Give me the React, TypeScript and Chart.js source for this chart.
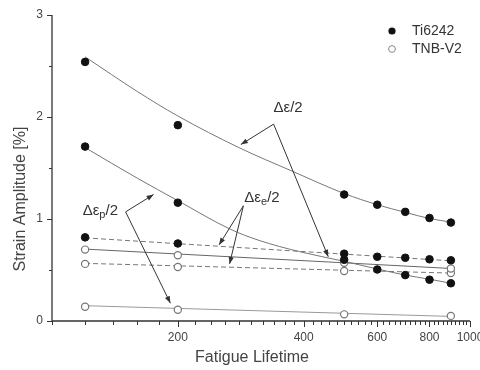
import React, { useEffect, useRef } from "react";
import { Chart, registerables } from "chart.js";

Chart.register(...registerables);

// ---- data ----
const tiX = [120, 200, 500, 600, 700, 800, 900];
const tiTotal = [2.54, 1.92, 1.24, 1.14, 1.07, 1.01, 0.965];
const tiElastic = [0.82, 0.76, 0.66, 0.63, 0.62, 0.605, 0.595];
const tiPlastic = [1.71, 1.16, 0.6, 0.505, 0.45, 0.405, 0.37];

const tnbX = [120, 200, 500, 900];
const tnbTotal = [0.7, 0.645, 0.57, 0.515];
const tnbElastic = [0.56, 0.53, 0.49, 0.47];
const tnbPlastic = [0.14, 0.11, 0.065, 0.05];

const tiTotalFitX = [120, 160, 200, 280, 375, 500, 600, 700, 800, 900];
const tiTotalFitY = [2.59, 2.25, 2.01, 1.7, 1.47, 1.25, 1.14, 1.065, 1.005, 0.97];
const tiPlasticFitX = [120, 160, 200, 267, 313, 391, 500, 600, 700, 800, 900];
const tiPlasticFitY = [1.7, 1.4, 1.18, 0.9, 0.79, 0.68, 0.585, 0.51, 0.45, 0.41, 0.37];

const lineEndsX = [120, 900];
const tiElasticFit = [0.815, 0.59];
const tnbTotalFit = [0.705, 0.515];
const tnbElasticFit = [0.565, 0.47];
const tnbPlasticFit = [0.15, 0.045];

const xTickLabels = [200, 400, 600, 800, 1000];
const xMinorStep = 20;
const yTickLabels = [0, 1, 2, 3];
const yMinorStep = 0.5;

const legendLabels = ["Ti6242", "TNB-V2"];
const xTitle = "Fatigue Lifetime";
const yTitle = "Strain Amplitude [%]";

// annotation labels (data coordinates)
const annSub = ["", "e", "p"];
const annTextAt = [
  [367, 2.09],
  [318, 1.21],
  [130.5, 1.08],
];
const annVertex = [
  [339, 1.93],
  [287, 1.13],
  [150, 1.07],
];
const annTips = [
  [[283, 1.73], [458, 0.63]],
  [[251, 0.746], [266, 0.56]],
  [[175, 1.24], [192, 0.174]],
];

const pts = (xs: number[], ys: number[]) => xs.map((x, i) => ({ x, y: ys[i] }));

const FONT = "'Liberation Sans', Arial, sans-serif";

const overlayPlugin = {
  id: "overlay",
  afterDraw(chart: any) {
    const ctx = chart.ctx as CanvasRenderingContext2D;
    const xs = chart.scales.x;
    const ys = chart.scales.y;
    const area = chart.chartArea;
    ctx.save();
    ctx.setLineDash([]);
    ctx.globalAlpha = 1;
    // axis lines
    ctx.strokeStyle = "#333";
    ctx.lineWidth = 1.3;
    ctx.beginPath();
    ctx.moveTo(area.left, area.top);
    ctx.lineTo(area.left, area.bottom);
    ctx.lineTo(area.right, area.bottom);
    ctx.stroke();
    // ticks
    ctx.lineWidth = 1;
    for (let i = 0; i * xMinorStep + 100 <= 1000; i++) {
      const v = 100 + i * xMinorStep;
      const px = Math.round(xs.getPixelForValue(v)) + 0.5;
      const major = xTickLabels.indexOf(v) >= 0;
      ctx.beginPath();
      ctx.moveTo(px, area.bottom);
      ctx.lineTo(px, area.bottom + (major ? 6 : 4));
      ctx.stroke();
    }
    for (let i = 0; i * yMinorStep <= 3; i++) {
      const v = i * yMinorStep;
      const py = Math.round(ys.getPixelForValue(v)) + 0.5;
      const major = yTickLabels.indexOf(v) >= 0;
      ctx.beginPath();
      ctx.moveTo(area.left, py);
      ctx.lineTo(area.left - (major ? 5 : 3), py);
      ctx.stroke();
    }

    // axis titles
    ctx.fillStyle = "#444";
    ctx.font = `16px ${FONT}`;
    ctx.textAlign = "center";
    ctx.textBaseline = "middle";
    ctx.fillText(xTitle, 252, 358);
    ctx.save();
    ctx.translate(21, 199);
    ctx.rotate(-Math.PI / 2);
    ctx.fillText(yTitle, 0, 0);
    ctx.restore();

    // legend
    ctx.textAlign = "left";
    ctx.font = `14px ${FONT}`;
    ctx.fillStyle = "#111";
    ctx.beginPath();
    ctx.arc(392, 31, 3.6, 0, Math.PI * 2);
    ctx.fill();
    ctx.fillStyle = "#333";
    ctx.fillText(legendLabels[0], 412, 31);
    ctx.beginPath();
    ctx.arc(392, 49, 3.4, 0, Math.PI * 2);
    ctx.fillStyle = "#fff";
    ctx.fill();
    ctx.strokeStyle = "#888";
    ctx.lineWidth = 1;
    ctx.stroke();
    ctx.fillStyle = "#333";
    ctx.fillText(legendLabels[1], 412, 49);

    // annotations
    const P = (p: number[]) => [xs.getPixelForValue(p[0]), ys.getPixelForValue(p[1])];
    ctx.strokeStyle = "#333";
    ctx.fillStyle = "#333";
    ctx.lineWidth = 1;
    for (let i = 0; i < annTextAt.length; i++) {
      const [vx, vy] = P(annVertex[i]);
      for (const t of annTips[i]) {
        const [tx, ty] = P(t);
        ctx.beginPath();
        ctx.moveTo(vx, vy);
        ctx.lineTo(tx, ty);
        ctx.stroke();
        const ang = Math.atan2(ty - vy, tx - vx);
        const L = 7, W = 2.6;
        ctx.beginPath();
        ctx.moveTo(tx, ty);
        ctx.lineTo(tx - L * Math.cos(ang) + W * Math.sin(ang), ty - L * Math.sin(ang) - W * Math.cos(ang));
        ctx.lineTo(tx - L * Math.cos(ang) - W * Math.sin(ang), ty - L * Math.sin(ang) + W * Math.cos(ang));
        ctx.closePath();
        ctx.fill();
      }
      // label
      const [cx, cy] = P(annTextAt[i]);
      const mainF = `15px ${FONT}`;
      const subF = `11px ${FONT}`;
      ctx.font = mainF;
      const w1 = ctx.measureText("Δε").width;
      const w3 = ctx.measureText("/2").width;
      ctx.font = subF;
      const w2 = annSub[i] ? ctx.measureText(annSub[i]).width : 0;
      let x0 = cx - (w1 + w2 + w3) / 2;
      ctx.textAlign = "left";
      ctx.textBaseline = "middle";
      ctx.fillStyle = "#333";
      ctx.font = mainF;
      ctx.fillText("Δε", x0, cy);
      x0 += w1;
      if (annSub[i]) {
        ctx.font = subF;
        ctx.fillText(annSub[i], x0, cy + 4);
        x0 += w2;
      }
      ctx.font = mainF;
      ctx.fillText("/2", x0, cy);
    }
    ctx.restore();
  },
};

export default function App() {
  const ref = useRef<HTMLCanvasElement | null>(null);
  useEffect(() => {
    if (!ref.current) return;
    const filled = {
      showLine: false,
      pointRadius: 3.8,
      pointBackgroundColor: "#111",
      pointBorderColor: "#111",
      pointBorderWidth: 1,
      order: 1,
    };
    const open = {
      showLine: false,
      pointRadius: 3.6,
      pointBackgroundColor: "#fff",
      pointBorderColor: "#777",
      pointBorderWidth: 1.2,
      order: 1,
    };
    const line = (data: any, color: string, dash: number[] = [], curved = false) => ({
      data,
      showLine: true,
      pointRadius: 0,
      borderColor: color,
      borderWidth: 1,
      borderDash: dash,
      tension: curved ? 0.4 : 0,
      cubicInterpolationMode: curved ? "monotone" : "default",
      order: 2,
    });
    const chart = new Chart(ref.current, {
      type: "scatter",
      data: {
        datasets: [
          { ...filled, data: pts(tiX, tiTotal) },
          { ...filled, data: pts(tiX, tiElastic) },
          { ...filled, data: pts(tiX, tiPlastic) },
          { ...open, data: pts(tnbX, tnbTotal) },
          { ...open, data: pts(tnbX, tnbElastic) },
          { ...open, data: pts(tnbX, tnbPlastic) },
          line(pts(tiTotalFitX, tiTotalFitY), "#777", [], true),
          line(pts(tiPlasticFitX, tiPlasticFitY), "#777", [], true),
          line(pts(lineEndsX, tiElasticFit), "#777", [5, 3]),
          line(pts(lineEndsX, tnbTotalFit), "#666"),
          line(pts(lineEndsX, tnbElasticFit), "#777", [5, 3]),
          line(pts(lineEndsX, tnbPlasticFit), "#999"),
        ] as any,
      },
      options: {
        responsive: false,
        animation: false,
        layout: { padding: { top: 15, right: 10, left: 0, bottom: 0 } },
        plugins: { legend: { display: false }, tooltip: { enabled: false } },
        scales: {
          x: {
            type: "logarithmic",
            min: 100,
            max: 1000,
            grid: { display: false, drawTicks: false },
            border: { display: false },
            afterBuildTicks: (s: any) => {
              s.ticks = xTickLabels.map((v) => ({ value: v }));
            },
            ticks: {
              autoSkip: false,
              maxRotation: 0,
              minRotation: 0,
              padding: 9,
              color: "#444",
              font: { family: FONT, size: 12 },
              callback: (v: any) => String(v),
            },
            afterFit: (s: any) => {
              s.height = 49;
              s.paddingLeft = 0;
              s.paddingRight = 0;
            },
          },
          y: {
            min: 0,
            max: 3,
            grid: { display: false, drawTicks: false },
            border: { display: false },
            afterBuildTicks: (s: any) => {
              s.ticks = yTickLabels.map((v) => ({ value: v }));
            },
            ticks: {
              padding: 9,
              color: "#444",
              font: { family: FONT, size: 12 },
              callback: (v: any) => String(v),
            },
            afterFit: (s: any) => {
              s.width = 52;
              s.paddingTop = 0;
              s.paddingBottom = 0;
            },
          },
        },
      } as any,
      plugins: [overlayPlugin],
    });
    return () => chart.destroy();
  }, []);
  return (
    <div style={{ position: "fixed", left: 0, top: 0, width: 480, height: 370, background: "#fff" }}>
      <canvas ref={ref} width={480} height={370} style={{ display: "block" }} />
    </div>
  );
}
